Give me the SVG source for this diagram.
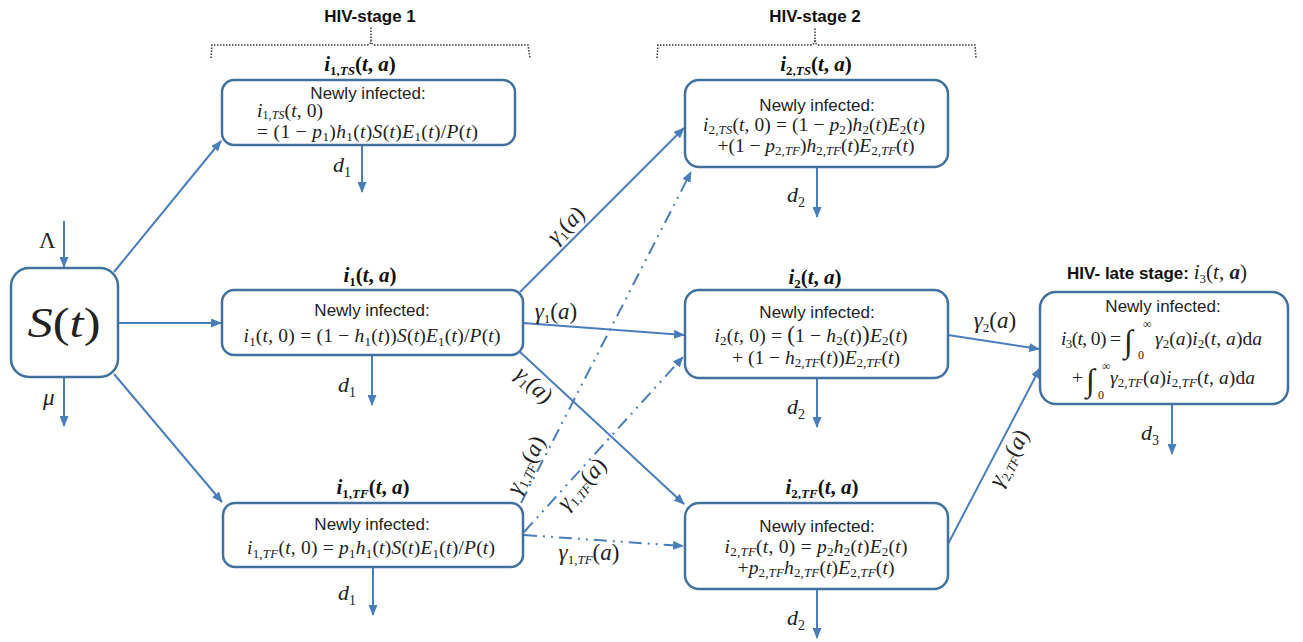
<svg xmlns="http://www.w3.org/2000/svg" width="1303" height="642" viewBox="0 0 1303 642">
<defs>
<style>
.bg{fill:#fff}
.box{fill:#fff;stroke:#41719C;stroke-width:2.5}
.ln{fill:none;stroke:#4A7EBB;stroke-width:2;marker-end:url(#ah)}
.dd{fill:none;stroke:#4A7EBB;stroke-width:2;stroke-dasharray:13 6 2 6 2 6;marker-end:url(#ah)}
.br{fill:none;stroke:#333;stroke-width:1.5;stroke-dasharray:1.5 1.5}
.hd{font-family:"Liberation Sans",Arial,sans-serif;font-weight:bold;font-size:17px;fill:#111;text-anchor:middle}
.ni{font-family:"Liberation Sans",Arial,sans-serif;font-size:17px;fill:#222;text-anchor:middle}
.m{font-family:"Liberation Serif","Times New Roman",serif;font-size:19.5px;fill:#222}
.b{font-family:"Liberation Serif","Times New Roman",serif;font-size:21px;font-weight:bold;fill:#111;text-anchor:middle}
.g{font-family:"Liberation Serif","Times New Roman",serif;font-size:23px;fill:#222;text-anchor:middle}
.it{font-style:italic}
.sb{font-size:13px}
.lim{font-family:"Liberation Serif","Times New Roman",serif;font-size:12px;fill:#222}
.c{text-anchor:middle}
</style>
<marker id="ah" markerUnits="userSpaceOnUse" markerWidth="11" markerHeight="9" refX="10" refY="4.5" orient="auto">
<path d="M0,0 L11,4.5 L0,9 z" fill="#4A7EBB"/>
</marker>
</defs>
<rect class="bg" x="0" y="0" width="1303" height="642"/>

<g id="brackets">
<path class="br" d="M211 58 L212 45 L366 45 Q371 45 371 40 L371 27 M371 40 Q371 45 376 45 L528 45 L530 58"/>
<path class="br" d="M657 58 L658 45 L810 45 Q815 45 815 40 L815 27 M815 40 Q815 45 820 45 L975 45 L976 58"/>
<text class="hd" x="370" y="22">HIV-stage 1</text>
<text class="hd" x="815" y="22">HIV-stage 2</text>
</g>

<g id="connectors">
<path class="ln" d="M64 221 L64 267"/>
<path class="ln" d="M64 377 L64 426"/>
<path class="ln" d="M114 272 L221 141"/>
<path class="ln" d="M118 323 L221 323"/>
<path class="ln" d="M114 374 L222 502"/>
<path class="ln" d="M362 145 L362 192"/>
<path class="ln" d="M372 355 L372 405"/>
<path class="ln" d="M373 567 L373 615"/>
<path class="ln" d="M817 167 L817 217"/>
<path class="ln" d="M817 378 L817 427"/>
<path class="ln" d="M817 589 L817 638"/>
<path class="ln" d="M1172 404 L1172 454"/>
<path class="ln" d="M520 292 L684 128"/>
<path class="ln" d="M523 323 L684 335"/>
<path class="ln" d="M520 352 L684 504"/>
<path class="dd" d="M521 503 L691 172"/>
<path class="dd" d="M524 532 L683 357"/>
<path class="dd" d="M524 535 L683 546"/>
<path class="ln" d="M948 335 L1039 349"/>
<path class="ln" d="M948 544 L1040 368"/>
<text class="m" x="39" y="248" style="font-size:23px">Λ</text>
<text class="m it" x="43" y="405" style="font-size:23px">μ</text>
<text class="m" x="333" y="172" style="font-size:22px"><tspan class="it">d</tspan><tspan dy="5" style="font-size:14px">1</tspan></text>
<text class="m" x="338" y="392" style="font-size:22px"><tspan class="it">d</tspan><tspan dy="5" style="font-size:14px">1</tspan></text>
<text class="m" x="338" y="600" style="font-size:22px"><tspan class="it">d</tspan><tspan dy="5" style="font-size:14px">1</tspan></text>
<text class="m" x="787" y="202" style="font-size:22px"><tspan class="it">d</tspan><tspan dy="5" style="font-size:14px">2</tspan></text>
<text class="m" x="787" y="414" style="font-size:22px"><tspan class="it">d</tspan><tspan dy="5" style="font-size:14px">2</tspan></text>
<text class="m" x="787" y="625" style="font-size:22px"><tspan class="it">d</tspan><tspan dy="5" style="font-size:14px">2</tspan></text>
<text class="m" x="1141" y="440" style="font-size:22px"><tspan class="it">d</tspan><tspan dy="5" style="font-size:14px">3</tspan></text>
<text class="g" transform="translate(566,225) rotate(-45)" y="7"><tspan class="it">γ</tspan><tspan class="sb" dy="4">1</tspan><tspan dy="-4">(</tspan><tspan class="it">a</tspan>)</text>
<text class="g" x="556" y="319"><tspan class="it">γ</tspan><tspan class="sb" dy="4">1</tspan><tspan dy="-4">(</tspan><tspan class="it">a</tspan>)</text>
<text class="g" transform="translate(534,385) rotate(43)" y="7"><tspan class="it">γ</tspan><tspan class="sb" dy="4">1</tspan><tspan dy="-4">(</tspan><tspan class="it">a</tspan>)</text>
<text class="g" transform="translate(526,465) rotate(-64)" y="7"><tspan class="it">γ</tspan><tspan class="sb" dy="4">1,<tspan class="it">TF</tspan></tspan><tspan dy="-4">(</tspan><tspan class="it">a</tspan>)</text>
<text class="g" transform="translate(582,484) rotate(-48)" y="7"><tspan class="it">γ</tspan><tspan class="sb" dy="4">1,<tspan class="it">TF</tspan></tspan><tspan dy="-4">(</tspan><tspan class="it">a</tspan>)</text>
<text class="g" x="589" y="560"><tspan class="it">γ</tspan><tspan class="sb" dy="4">1,<tspan class="it">TF</tspan></tspan><tspan dy="-4">(</tspan><tspan class="it">a</tspan>)</text>
<text class="g" x="995" y="328"><tspan class="it">γ</tspan><tspan class="sb" dy="4">2</tspan><tspan dy="-4">(</tspan><tspan class="it">a</tspan>)</text>
<text class="g" transform="translate(1009,458) rotate(-62)" y="7"><tspan class="it">γ</tspan><tspan class="sb" dy="4">2,<tspan class="it">TF</tspan></tspan><tspan dy="-4">(</tspan><tspan class="it">a</tspan>)</text>
</g>

<g id="node-S">
<rect class="box" x="11" y="268" width="107" height="109" rx="18"/>
<text class="m c" x="64" y="337" style="font-size:42px" textLength="73" lengthAdjust="spacingAndGlyphs"><tspan class="it">S</tspan>(<tspan class="it">t</tspan>)</text>
</g>

<g id="node-i1TS">
<text class="b" x="360" y="71"><tspan class="it">i</tspan><tspan class="sb" dy="4">1,<tspan class="it">TS</tspan></tspan><tspan dy="-4">(</tspan><tspan class="it">t</tspan>, <tspan class="it">a</tspan>)</text>
<rect class="box" x="222" y="80" width="293" height="65" rx="12"/>
<text class="ni" x="368" y="99">Newly infected:</text>
<text class="m" x="257" y="117" textLength="66"><tspan class="it">i</tspan><tspan class="sb" dy="2" style="font-size:12px">1,<tspan class="it">TS</tspan></tspan><tspan dy="-2">(</tspan><tspan class="it">t</tspan>, 0)</text>
<text class="m" x="257" y="138" textLength="221">= (1 − <tspan class="it">p</tspan><tspan class="sb" dy="3">1</tspan><tspan dy="-3">)</tspan><tspan class="it">h</tspan><tspan class="sb" dy="3">1</tspan><tspan dy="-3">(</tspan><tspan class="it">t</tspan>)<tspan class="it">S</tspan>(<tspan class="it">t</tspan>)<tspan class="it">E</tspan><tspan class="sb" dy="3">1</tspan><tspan dy="-3">(</tspan><tspan class="it">t</tspan>)/<tspan class="it">P</tspan>(<tspan class="it">t</tspan>)</text>
</g>

<g id="node-i1">
<text class="b" x="370" y="282"><tspan class="it">i</tspan><tspan class="sb" dy="4">1</tspan><tspan dy="-4">(</tspan><tspan class="it">t</tspan>, <tspan class="it">a</tspan>)</text>
<rect class="box" x="222" y="290" width="301" height="65" rx="12"/>
<text class="ni" x="372" y="316">Newly infected:</text>
<text class="m c" x="372" y="342" textLength="257"><tspan class="it">i</tspan><tspan class="sb" dy="4">1</tspan><tspan dy="-4">(</tspan><tspan class="it">t</tspan>, 0) = (1 − <tspan class="it">h</tspan><tspan class="sb" dy="4">1</tspan><tspan dy="-4">(</tspan><tspan class="it">t</tspan>))<tspan class="it">S</tspan>(<tspan class="it">t</tspan>)<tspan class="it">E</tspan><tspan class="sb" dy="4">1</tspan><tspan dy="-4">(</tspan><tspan class="it">t</tspan>)/<tspan class="it">P</tspan>(<tspan class="it">t</tspan>)</text>
</g>

<g id="node-i1TF">
<text class="b" x="373" y="494"><tspan class="it">i</tspan><tspan class="sb" dy="4">1,<tspan class="it">TF</tspan></tspan><tspan dy="-4">(</tspan><tspan class="it">t</tspan>, <tspan class="it">a</tspan>)</text>
<rect class="box" x="223" y="503" width="300" height="64" rx="12"/>
<text class="ni" x="372" y="530">Newly infected:</text>
<text class="m c" x="371" y="554" textLength="248"><tspan class="it">i</tspan><tspan class="sb" dy="4">1,<tspan class="it">TF</tspan></tspan><tspan dy="-4">(</tspan><tspan class="it">t</tspan>, 0) = <tspan class="it">p</tspan><tspan class="sb" dy="4">1</tspan><tspan class="it" dy="-4">h</tspan><tspan class="sb" dy="4">1</tspan><tspan dy="-4">(</tspan><tspan class="it">t</tspan>)<tspan class="it">S</tspan>(<tspan class="it">t</tspan>)<tspan class="it">E</tspan><tspan class="sb" dy="4">1</tspan><tspan dy="-4">(</tspan><tspan class="it">t</tspan>)/<tspan class="it">P</tspan>(<tspan class="it">t</tspan>)</text>
</g>

<g id="node-i2TS">
<text class="b" x="816" y="71"><tspan class="it">i</tspan><tspan class="sb" dy="4">2,<tspan class="it">TS</tspan></tspan><tspan dy="-4">(</tspan><tspan class="it">t</tspan>, <tspan class="it">a</tspan>)</text>
<rect class="box" x="685" y="80" width="263" height="87" rx="14"/>
<text class="ni" x="817" y="111">Newly infected:</text>
<text class="m c" x="814" y="131" textLength="222"><tspan class="it">i</tspan><tspan class="sb" dy="3">2,<tspan class="it">TS</tspan></tspan><tspan dy="-3">(</tspan><tspan class="it">t</tspan>, 0) = (1 − <tspan class="it">p</tspan><tspan class="sb" dy="3">2</tspan><tspan dy="-3">)</tspan><tspan class="it">h</tspan><tspan class="sb" dy="3">2</tspan><tspan dy="-3">(</tspan><tspan class="it">t</tspan>)<tspan class="it">E</tspan><tspan class="sb" dy="3">2</tspan><tspan dy="-3">(</tspan><tspan class="it">t</tspan>)</text>
<text class="m c" x="816" y="152" textLength="197">+(1 − <tspan class="it">p</tspan><tspan class="sb" dy="3">2,<tspan class="it">TF</tspan></tspan><tspan dy="-3">)</tspan><tspan class="it">h</tspan><tspan class="sb" dy="3">2,<tspan class="it">TF</tspan></tspan><tspan dy="-3">(</tspan><tspan class="it">t</tspan>)<tspan class="it">E</tspan><tspan class="sb" dy="3">2,<tspan class="it">TF</tspan></tspan><tspan dy="-3">(</tspan><tspan class="it">t</tspan>)</text>
</g>

<g id="node-i2">
<text class="b" x="815" y="284"><tspan class="it">i</tspan><tspan class="sb" dy="4">2</tspan><tspan dy="-4">(</tspan><tspan class="it">t</tspan>, <tspan class="it">a</tspan>)</text>
<rect class="box" x="685" y="290" width="263" height="88" rx="14"/>
<text class="ni" x="817" y="318">Newly infected:</text>
<text class="m c" x="811" y="342" textLength="193"><tspan class="it">i</tspan><tspan class="sb" dy="3">2</tspan><tspan dy="-3">(</tspan><tspan class="it">t</tspan>, 0) = <tspan style="font-size:23px">(</tspan>1 − <tspan class="it">h</tspan><tspan class="sb" dy="3">2</tspan><tspan dy="-3">(</tspan><tspan class="it">t</tspan>)<tspan style="font-size:23px">)</tspan><tspan class="it">E</tspan><tspan class="sb" dy="3">2</tspan><tspan dy="-3">(</tspan><tspan class="it">t</tspan>)</text>
<text class="m c" x="816" y="364" textLength="168">+ (1 − <tspan class="it">h</tspan><tspan class="sb" dy="3">2,<tspan class="it">TF</tspan></tspan><tspan dy="-3">(</tspan><tspan class="it">t</tspan>))<tspan class="it">E</tspan><tspan class="sb" dy="3">2,<tspan class="it">TF</tspan></tspan><tspan dy="-3">(</tspan><tspan class="it">t</tspan>)</text>
</g>

<g id="node-i2TF">
<text class="b" x="822" y="494"><tspan class="it">i</tspan><tspan class="sb" dy="4">2,<tspan class="it">TF</tspan></tspan><tspan dy="-4">(</tspan><tspan class="it">t</tspan>, <tspan class="it">a</tspan>)</text>
<rect class="box" x="685" y="503" width="263" height="86" rx="14"/>
<text class="ni" x="817" y="532">Newly infected:</text>
<text class="m c" x="816" y="553" textLength="183"><tspan class="it">i</tspan><tspan class="sb" dy="3">2,<tspan class="it">TF</tspan></tspan><tspan dy="-3">(</tspan><tspan class="it">t</tspan>, 0) = <tspan class="it">p</tspan><tspan class="sb" dy="3">2</tspan><tspan class="it" dy="-3">h</tspan><tspan class="sb" dy="3">2</tspan><tspan dy="-3">(</tspan><tspan class="it">t</tspan>)<tspan class="it">E</tspan><tspan class="sb" dy="3">2</tspan><tspan dy="-3">(</tspan><tspan class="it">t</tspan>)</text>
<text class="m c" x="816" y="574" textLength="157">+<tspan class="it">p</tspan><tspan class="sb" dy="3">2,<tspan class="it">TF</tspan></tspan><tspan class="it" dy="-3">h</tspan><tspan class="sb" dy="3">2,<tspan class="it">TF</tspan></tspan><tspan dy="-3">(</tspan><tspan class="it">t</tspan>)<tspan class="it">E</tspan><tspan class="sb" dy="3">2,<tspan class="it">TF</tspan></tspan><tspan dy="-3">(</tspan><tspan class="it">t</tspan>)</text>
</g>

<g id="node-i3">
<text class="hd" x="1157" y="279">HIV- late stage: <tspan class="m it" style="font-size:21px;font-weight:normal">i</tspan><tspan class="m" style="font-size:13px;font-weight:normal" dy="4">3</tspan><tspan class="m" style="font-size:21px;font-weight:normal" dy="-4">(</tspan><tspan class="m it" style="font-size:21px;font-weight:normal">t</tspan><tspan class="m" style="font-size:21px;font-weight:normal">, </tspan><tspan class="m it" style="font-size:21px;font-weight:bold">a</tspan><tspan class="m" style="font-size:21px;font-weight:normal">)</tspan></text>
<rect class="box" x="1040" y="292" width="248" height="112" rx="16"/>
<text class="ni" x="1163" y="312">Newly infected:</text>
<text class="m" x="1061" y="345" textLength="60"><tspan class="it">i</tspan><tspan class="sb" dy="3">3</tspan><tspan dy="-3">(</tspan><tspan class="it">t</tspan>, 0) =</text>
<text class="m it" x="1124" y="352" style="font-size:32px">∫</text>
<text class="lim" x="1143" y="328">∞</text>
<text class="lim" x="1138" y="359">0</text>
<text class="m" x="1155" y="345" textLength="107"><tspan class="it">γ</tspan><tspan class="sb" dy="3">2</tspan><tspan dy="-3">(</tspan><tspan class="it">a</tspan>)<tspan class="it">i</tspan><tspan class="sb" dy="3">2</tspan><tspan dy="-3">(</tspan><tspan class="it">t</tspan>, <tspan class="it">a</tspan>)d<tspan class="it">a</tspan></text>
<text class="m" x="1072" y="384">+</text>
<text class="m it" x="1086" y="391" style="font-size:32px">∫</text>
<text class="lim" x="1102" y="370">∞</text>
<text class="lim" x="1098" y="399">0</text>
<text class="m" x="1110" y="384" textLength="145"><tspan class="it">γ</tspan><tspan class="sb" dy="3">2,<tspan class="it">TF</tspan></tspan><tspan dy="-3">(</tspan><tspan class="it">a</tspan>)<tspan class="it">i</tspan><tspan class="sb" dy="3">2,<tspan class="it">TF</tspan></tspan><tspan dy="-3">(</tspan><tspan class="it">t</tspan>, <tspan class="it">a</tspan>)d<tspan class="it">a</tspan></text>
</g>
</svg>
